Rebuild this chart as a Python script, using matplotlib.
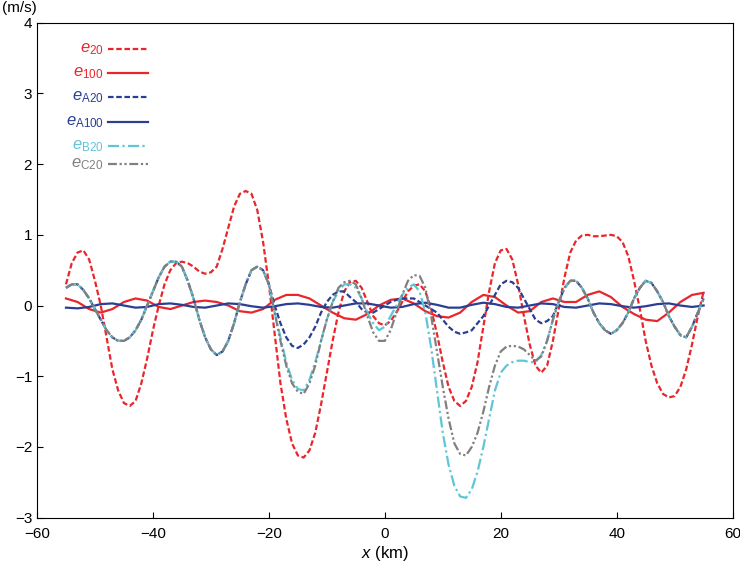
import matplotlib.pyplot as plt
import numpy as np

plt.rcParams['font.family'] = ['Liberation Sans', 'DejaVu Sans']
plt.rcParams['mathtext.fontset'] = 'custom'
plt.rcParams['mathtext.it'] = 'Liberation Sans:italic'
plt.rcParams['mathtext.rm'] = 'Liberation Sans'

# sampled every 1 km
x1 = np.arange(-55, 56, 1)
e20 = [0.3, 0.6, 0.75, 0.78, 0.65, 0.35, 0.0, -0.45, -0.9, -1.2, -1.38, -1.42, -1.35, -1.1, -0.75,
       -0.35, 0.0, 0.3, 0.5, 0.6, 0.62, 0.6, 0.55, 0.48, 0.45, 0.47, 0.55, 0.8, 1.1, 1.4, 1.58, 1.62,
       1.58, 1.35, 0.9, 0.3, -0.4, -1.1, -1.6, -1.95, -2.12, -2.15, -2.05, -1.8, -1.4, -0.95, -0.5,
       -0.1, 0.2, 0.33, 0.35, 0.25, 0.05, -0.15, -0.25, -0.28, -0.22, -0.1, 0.05, 0.2, 0.28, 0.3, 0.2,
       -0.05, -0.4, -0.8, -1.15, -1.35, -1.42, -1.35, -1.15, -0.8, -0.3, 0.2, 0.6, 0.78, 0.8, 0.65,
       0.3, -0.15, -0.55, -0.85, -0.95, -0.85, -0.5, -0.05, 0.4, 0.75, 0.92, 0.99, 1.0, 0.98, 0.98,
       0.99, 1.0, 0.98, 0.9, 0.7, 0.35, -0.05, -0.5, -0.85, -1.1, -1.25, -1.3, -1.28, -1.15, -0.9,
       -0.55, -0.15, 0.2]
eA20 = [0.25, 0.3, 0.3, 0.22, 0.1, -0.05, -0.2, -0.35, -0.45, -0.5, -0.5, -0.45, -0.35, -0.2, 0.0,
        0.2, 0.4, 0.55, 0.62, 0.62, 0.55, 0.35, 0.1, -0.2, -0.45, -0.62, -0.7, -0.65, -0.5, -0.25,
        0.05, 0.3, 0.5, 0.55, 0.5, 0.3, 0.0, -0.25, -0.45, -0.57, -0.6, -0.55, -0.45, -0.3, -0.1,
        0.05, 0.15, 0.2, 0.2, 0.12, 0.05, -0.05, -0.1, -0.1, -0.05, 0.0, 0.05, 0.08, 0.1, 0.1, 0.1,
        0.05, 0.0, -0.05, -0.1, -0.2, -0.3, -0.37, -0.4, -0.38, -0.35, -0.25, -0.15, 0.0, 0.15, 0.3,
        0.35, 0.33, 0.25, 0.1, -0.05, -0.2, -0.25, -0.22, -0.15, 0.05, 0.25, 0.35, 0.35, 0.25, 0.1,
        -0.1, -0.25, -0.35, -0.4, -0.35, -0.25, -0.1, 0.1, 0.25, 0.35, 0.32, 0.2, 0.05, -0.15, -0.3,
        -0.42, -0.45, -0.3, -0.1, 0.1]
# eB20 / eC20 follow eA20 except between x = -19 and 30 km
eB20_mid = [-0.1, -0.45, -0.8, -1.05, -1.18, -1.2, -1.05, -0.8, -0.5, -0.2, 0.05, 0.2, 0.3, 0.3,
            0.25, 0.1, -0.1, -0.25, -0.35, -0.3, -0.15, 0.0, 0.15, 0.25, 0.3, 0.2, -0.1, -0.6, -1.2,
            -1.8, -2.25, -2.55, -2.7, -2.72, -2.6, -2.35, -2.0, -1.6, -1.2, -0.95, -0.85, -0.8, -0.78,
            -0.78, -0.8, -0.8, -0.7, -0.5, -0.2, 0.05]
eC20_mid = [-0.1, -0.5, -0.85, -1.1, -1.22, -1.25, -1.1, -0.85, -0.5, -0.2, 0.05, 0.25, 0.33, 0.35,
            0.3, 0.1, -0.15, -0.38, -0.5, -0.5, -0.35, -0.1, 0.15, 0.35, 0.43, 0.42, 0.25, -0.15,
            -0.65, -1.15, -1.6, -1.95, -2.1, -2.12, -2.0, -1.8, -1.5, -1.15, -0.85, -0.65, -0.58,
            -0.57, -0.58, -0.62, -0.7, -0.78, -0.72, -0.5, -0.2, 0.05]
eB20 = eA20[:36] + eB20_mid + eA20[86:]
eC20 = eA20[:36] + eC20_mid + eA20[86:]

# sampled every 2 km
x2 = np.arange(-55, 56, 2)
e100 = [0.1, 0.05, -0.05, -0.1, -0.05, 0.05, 0.1, 0.07, -0.02, -0.05, 0.0, 0.05, 0.07, 0.05, 0.0,
        -0.08, -0.1, -0.05, 0.08, 0.15, 0.15, 0.1, 0.0, -0.1, -0.18, -0.2, -0.12, 0.0, 0.08, 0.1, 0.03,
        -0.08, -0.15, -0.17, -0.1, 0.05, 0.15, 0.12, 0.0, -0.1, -0.08, 0.05, 0.1, 0.05, 0.05, 0.15,
        0.2, 0.12, -0.02, -0.12, -0.2, -0.22, -0.1, 0.05, 0.15, 0.18]
eA100 = [-0.03, -0.04, -0.02, 0.02, 0.03, 0.0, -0.03, -0.02, 0.02, 0.03, 0.01, -0.02, -0.03, 0.0,
         0.03, 0.02, -0.01, -0.03, -0.01, 0.02, 0.03, 0.01, -0.02, -0.03, 0.0, 0.03, 0.03, 0.0,
         -0.03, -0.02, 0.02, 0.04, 0.01, -0.03, -0.03, 0.01, 0.04, 0.02, -0.02, -0.03, 0.0, 0.03,
         0.02, -0.02, -0.03, 0.0, 0.03, 0.02, -0.01, -0.03, -0.01, 0.02, 0.03, 0.0, -0.02, 0.0]

red, navy, cyan, grey = '#e8262b', '#2a3f93', '#5ec6d6', '#808080'

fig = plt.figure(figsize=(7.4, 5.67), dpi=100)
ax = fig.add_axes([0.05, 0.087, 0.94, 0.873])

series = [
    (x1, e20, red, (0, (2.5, 1.2)), r'$e_{20}$'),
    (x2, e100, red, '-', r'$e_{100}$'),
    (x1, eA20, navy, (0, (2.5, 1.2)), r'$e_{\mathrm{A20}}$'),
    (x2, eA100, navy, '-', r'$e_{\mathrm{A100}}$'),
    (x1, eB20, cyan, (0, (5, 1.5, 1, 1.5)), r'$e_{\mathrm{B20}}$'),
    (x1, eC20, grey, (0, (4, 1.2, 1, 1.2, 1, 1.2)), r'$e_{\mathrm{C20}}$'),
]
for xs, ys, c, ls, lab in series:
    ax.plot(xs, ys, color=c, linestyle=ls, linewidth=1.6)

# hand-made legend in the upper left corner
leg_y = [3.63, 3.29, 2.95, 2.6, 2.26, 2.0]
for (xs, ys, c, ls, lab), yy in zip(series, leg_y):
    ax.plot([-47.7, -40.8], [yy, yy], color=c, linestyle=ls, linewidth=1.6)
    ax.text(-48.5, yy, lab, color=c, fontsize=12, ha='right', va='center')

ax.set_xlim(-60, 60)
ax.set_ylim(-3, 4)
ax.set_xticks(range(-60, 61, 20))
ax.set_yticks(range(-3, 5))
ax.tick_params(direction='in', labelsize=11, length=4)
ax.tick_params(axis='x', pad=7)
ax.set_xlabel(r'$x$ (km)', fontsize=12, labelpad=2)
fig.text(0.003, 0.999, '(m/s)', fontsize=11, ha='left', va='top')

fig.savefig('out.png', dpi=100)
